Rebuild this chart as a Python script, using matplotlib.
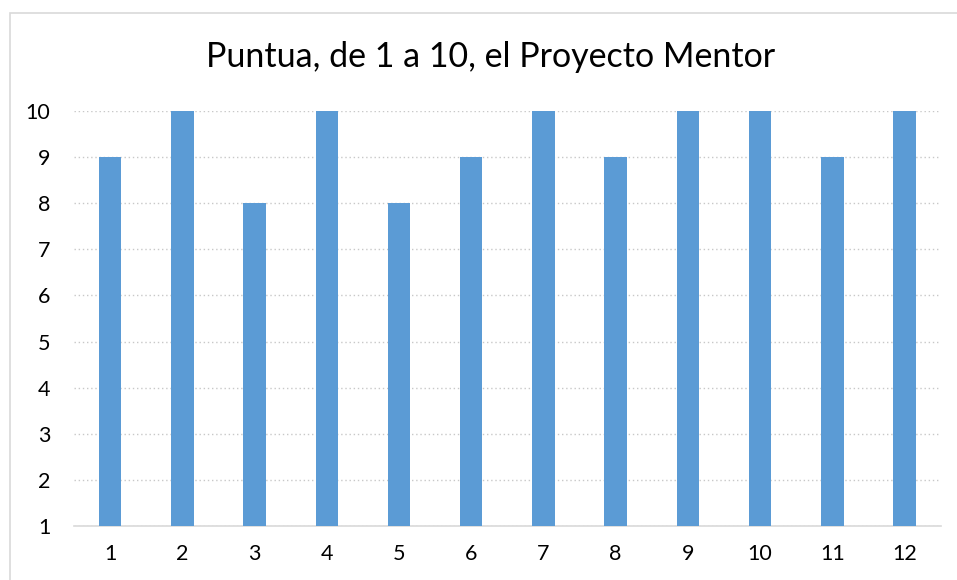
import matplotlib
matplotlib.use("Agg")
import matplotlib.pyplot as plt
from matplotlib.patches import Rectangle

categories = [str(i) for i in range(1, 13)]
scores = [9, 10, 8, 10, 8, 9, 10, 9, 10, 10, 9, 10]
yticks = list(range(1, 11))

plt.rcParams["font.family"] = ["Lato", "DejaVu Sans"]

fig = plt.figure(figsize=(9.57, 5.8), dpi=100)
ax = fig.add_axes([74 / 957, 1 - 526 / 580, (940.7 - 74) / 957, (526 - 111) / 580])

# chart frame, Excel-style
fig.patches.append(Rectangle((10 / 957, -0.1), 1.2, 1 - 13 / 580 + 0.1,
                             transform=fig.transFigure, fill=False,
                             edgecolor="#d9d9d9", linewidth=1.2))

x = range(len(categories))
ax.bar(x, [s - 1 for s in scores], bottom=1, width=0.31, color="#5b9bd5", zorder=3)

ax.set_xlim(-0.5, len(categories) - 0.5)
ax.set_ylim(1, 10)
ax.set_xticks(list(x))
ax.set_xticklabels(categories)
ax.set_yticks(yticks)

ax.yaxis.grid(True, linestyle=(0, (1, 2)), color="#c8c8c8", linewidth=1)
ax.tick_params(length=0, labelsize=15.5, colors="black")
ax.tick_params(axis="y", pad=17)
ax.tick_params(axis="x", pad=13)
for side in ["top", "right", "left"]:
    ax.spines[side].set_visible(False)
ax.spines["bottom"].set_color("#d9d9d9")
ax.spines["bottom"].set_linewidth(1.2)

fig.text(491 / 957, 1 - 57 / 580, "Puntua, de 1 a 10, el Proyecto Mentor",
         ha="center", va="center", fontsize=24.5)

fig.savefig("out.png", dpi=100)
